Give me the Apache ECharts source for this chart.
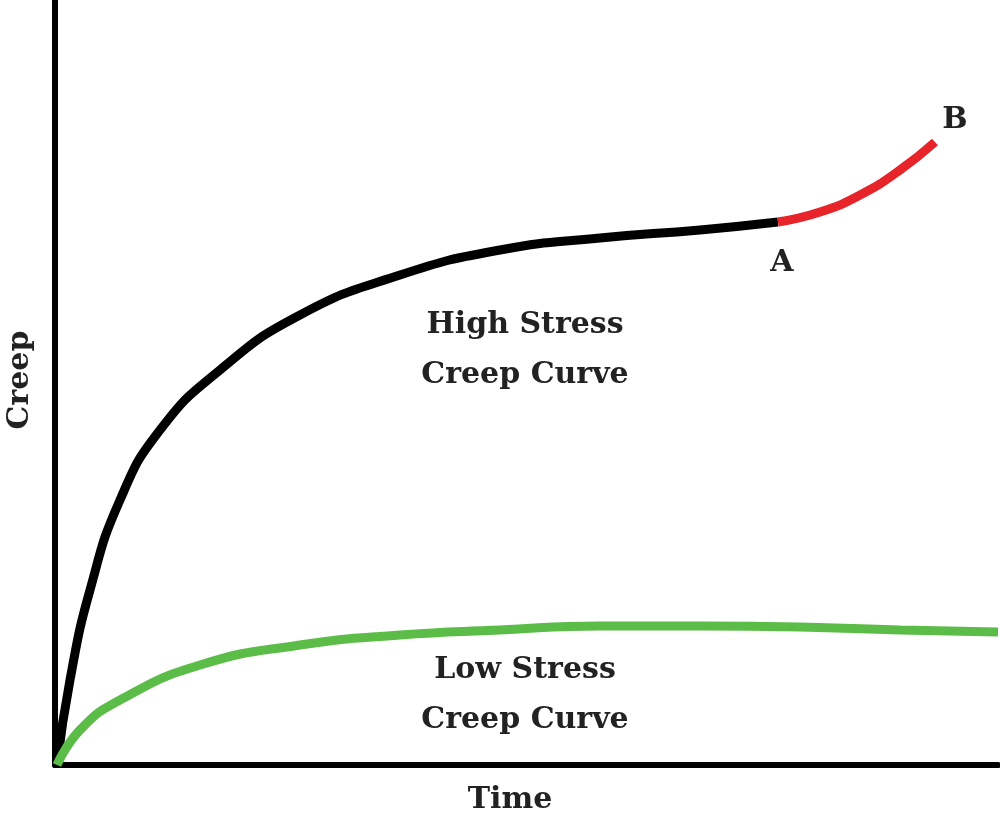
<!DOCTYPE html>
<html><head><meta charset="utf-8">
<script src="https://cdn.jsdelivr.net/npm/echarts@6/dist/echarts.min.js"></script>
<style>html,body{margin:0;padding:0;background:#fff}#c{width:1000px;height:827px}</style>
</head><body><div id="c"></div>
<script>
// values (time, creep) in arbitrary units
const highStress = [[2,0],[15,85],[35,175],[65,265],[105,335],[165,395],[245,450],[345,490],[445,515],[545,527],[645,535],[723,543]];
const tertiary = [[723,543],[765,553],[805,570],[845,595],[880,623]];
const lowStress = [[2,0],[25,35],[65,65],[145,100],[245,120],[345,130],[445,135],[545,139],[645,139],[745,138],[845,135],[943,133]];

const font = 'bold 30px "DejaVu Serif", serif';
const txt = (x, y, s, extra) => Object.assign({type:'text', left:x, top:y, style:{text:s, font, fill:'#222', textAlign:'center', lineHeight:50}}, extra||{});

const chart = echarts.init(document.getElementById('c'));
chart.setOption({
  animation:false,
  grid:{left:55,right:2,top:0,bottom:62},
  xAxis:{type:'value',min:0,max:943,axisLine:{show:true,lineStyle:{color:'#000',width:6}},axisTick:{show:false},axisLabel:{show:false},splitLine:{show:false}},
  yAxis:{type:'value',min:0,max:765,axisLine:{show:true,lineStyle:{color:'#000',width:6}},axisTick:{show:false},axisLabel:{show:false},splitLine:{show:false}},
  series:[
    {type:'line',data:highStress,smooth:true,symbol:'none',lineStyle:{color:'#000',width:9}},
    {type:'line',data:tertiary,smooth:true,symbol:'none',lineStyle:{color:'#e8242b',width:9}},
    {type:'line',data:lowStress,smooth:true,symbol:'none',lineStyle:{color:'#5bbd48',width:9}}
  ],
  graphic:[
    {type:'text',x:525,y:300,style:{text:'High Stress\nCreep Curve',font,fill:'#222',align:'center',lineHeight:50}},
    {type:'text',x:525,y:645,style:{text:'Low Stress\nCreep Curve',font,fill:'#222',align:'center',lineHeight:50}},
    {type:'text',x:782,y:248,style:{text:'A',font,fill:'#222',align:'center'}},
    {type:'text',x:955,y:105,style:{text:'B',font,fill:'#222',align:'center'}},
    {type:'text',x:510,y:785,style:{text:'Time',font,fill:'#222',align:'center'}},
    {type:'text',x:5,y:380,rotation:Math.PI/2,style:{text:'Creep',font,fill:'#222',align:'center',verticalAlign:'top'}}
  ]
});
</script></body></html>
